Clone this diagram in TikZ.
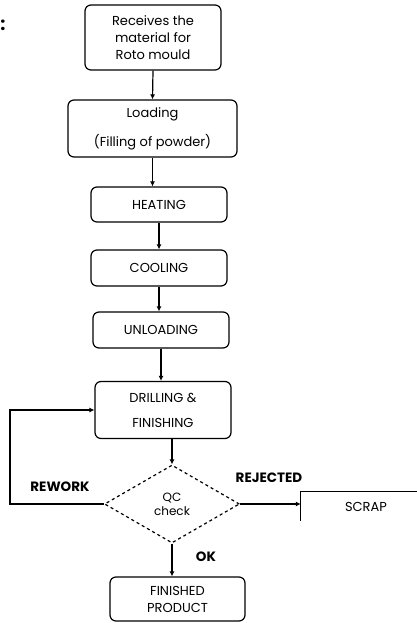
\documentclass[tikz,border=0pt]{standalone}
\usepackage{fontspec}
\setmainfont{Poppins}
\usetikzlibrary{shapes.geometric,arrows.meta}
\begin{document}
\begin{tikzpicture}[x=1pt,y=-1pt,
  box/.style={draw, rounded corners=6pt, line width=1.2pt, align=center,
    font=\fontsize{13}{17}\selectfont, inner sep=0pt},
  arr/.style={-{Latex[length=5pt,width=5pt]}, line width=1.2pt},
  lbl/.style={font=\bfseries\fontsize{13.5}{14}\selectfont, inner sep=0pt}]
\useasboundingbox (0,0) rectangle (416,623);
\node[font=\bfseries\fontsize{18}{18}\selectfont, inner sep=0pt] (colon) at (3,25) {:};
\node[box, minimum width=136pt, minimum height=65pt] (recv) at (153,37.5) {Receives the\\material for\\Roto mould};
\node[box, minimum width=169pt, minimum height=57pt] (load) at (152.5,128.5) {Loading\\[12pt](Filling of powder)};
\node[box, minimum width=136pt, minimum height=35pt] (heat) at (159,204.5) {HEATING};
\node[box, minimum width=136pt, minimum height=36pt] (cool) at (159,268) {COOLING};
\node[box, minimum width=136pt, minimum height=36pt] (unload) at (161,330) {UNLOADING};
\node[box, minimum width=136pt, minimum height=57pt] (drill) at (163,410) {DRILLING \&\\[8pt]FINISHING};
\node[draw, dashed, diamond, line width=1.2pt, minimum width=135pt, minimum height=78pt, inner sep=0pt, align=center,
  font=\fontsize{12}{14}\selectfont] (qc) at (172,504) {QC\\check};
\node[font=\fontsize{13}{14}\selectfont, inner sep=0pt, minimum width=130pt, minimum height=29pt] (scrap) at (366,506.5) {SCRAP};
\draw[line width=1.2pt] ([xshift=30pt]scrap.north east) -- (scrap.north west) -- (scrap.south west);
\node[box, minimum width=135pt, minimum height=44pt] (fin) at (177.5,599) {FINISHED\\PRODUCT};
\node[lbl] (rework) at (60,487) {REWORK};
\node[lbl] (rejected) at (269,478) {REJECTED};
\node[lbl] (ok) at (206,557) {OK};
\coordinate (rw) at (10,504);
\draw[arr] (recv.south) -- (load.north);
\draw[arr] (load.south) -- (load.south |- heat.north);
\draw[arr] (heat.south) -- (cool.north);
\draw[arr] (cool.south) -- (cool.south |- unload.north);
\draw[arr] (unload.south) -- (unload.south |- drill.north);
\draw[arr] (drill.south -| qc.north) -- (qc.north);
\draw[arr] (qc.south) -- (qc.south |- fin.north);
\draw[arr] (qc.east) -- (qc.east -| scrap.west);
\draw[arr] (qc.west) -- (rw) |- (drill.west);
\end{tikzpicture}
\end{document}
